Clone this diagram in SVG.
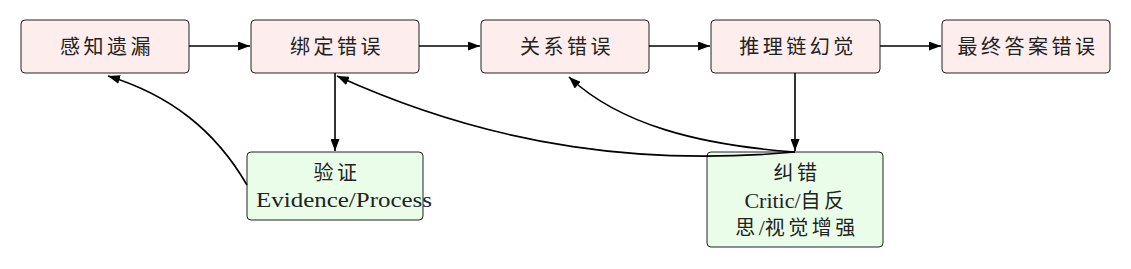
<svg xmlns="http://www.w3.org/2000/svg" width="1131" height="269" viewBox="0 0 1131 269">
<style>
.err{fill:#fdeded;stroke:#222;stroke-width:1}
.fix{fill:#eafde9;stroke:#222;stroke-width:1}
text{font-family:"Liberation Serif","Noto Sans CJK SC",serif;font-size:22px;fill:#222;text-anchor:middle}
.cjk,.k{font-family:"Noto Sans CJK SC",sans-serif;font-size:20px;letter-spacing:3.5px}
.c{fill:none;stroke:#000;stroke-width:1.6}
</style>
<defs>
<marker id="ah" viewBox="0 0 12 9" refX="12" refY="4.5" markerWidth="12" markerHeight="9" markerUnits="userSpaceOnUse" orient="auto">
<path d="M0,0 L12,4.5 L0,9 Z" fill="#000"/>
</marker>
</defs>
<g id="n1"><rect class="err" x="21" y="20" width="168" height="53" rx="4"/><text class="cjk" x="107" y="54">感知遗漏</text></g>
<g id="n2"><rect class="err" x="251" y="20" width="168" height="53" rx="4"/><text class="cjk" x="337" y="54">绑定错误</text></g>
<g id="n3"><rect class="err" x="481" y="20" width="168" height="53" rx="4"/><text class="cjk" x="567" y="54">关系错误</text></g>
<g id="n4"><rect class="err" x="711" y="20" width="169" height="53" rx="4"/><text class="cjk" x="798" y="54">推理链幻觉</text></g>
<g id="n5"><rect class="err" x="942" y="20" width="168" height="53" rx="4"/><text class="cjk" x="1028" y="54">最终答案错误</text></g>
<g id="verify"><rect class="fix" x="247" y="152" width="176" height="68" rx="4"/>
<text class="cjk" x="337" y="180">验证</text>
<text x="344" y="207" textLength="176" lengthAdjust="spacingAndGlyphs">Evidence/Process</text></g>
<g id="correct"><rect class="fix" x="707" y="152" width="176" height="95" rx="4"/>
<text class="cjk" x="797" y="180">纠错</text>
<text x="796" y="208"><tspan>Critic/</tspan><tspan class="k">自反</tspan></text>
<text x="797" y="235"><tspan class="k">思</tspan><tspan>/</tspan><tspan class="k">视觉增强</tspan></text></g>
<g id="connectors">
<line class="c" x1="189" y1="46" x2="250" y2="46" marker-end="url(#ah)"/>
<line class="c" x1="419" y1="46" x2="480" y2="46" marker-end="url(#ah)"/>
<line class="c" x1="649" y1="46" x2="710" y2="46" marker-end="url(#ah)"/>
<line class="c" x1="880" y1="46" x2="941" y2="46" marker-end="url(#ah)"/>
<line class="c" x1="335" y1="73" x2="335" y2="151" marker-end="url(#ah)"/>
<line class="c" x1="795" y1="73" x2="795" y2="151" marker-end="url(#ah)"/>
<path class="c" d="M247,185 C215,130 170,95 108,76" marker-end="url(#ah)"/>
<path class="c" d="M795,152 C650,165 500,150 337,76" marker-end="url(#ah)"/>
<path class="c" d="M795,152 C700,145 620,125 569,77" marker-end="url(#ah)"/>
</g>
</svg>
